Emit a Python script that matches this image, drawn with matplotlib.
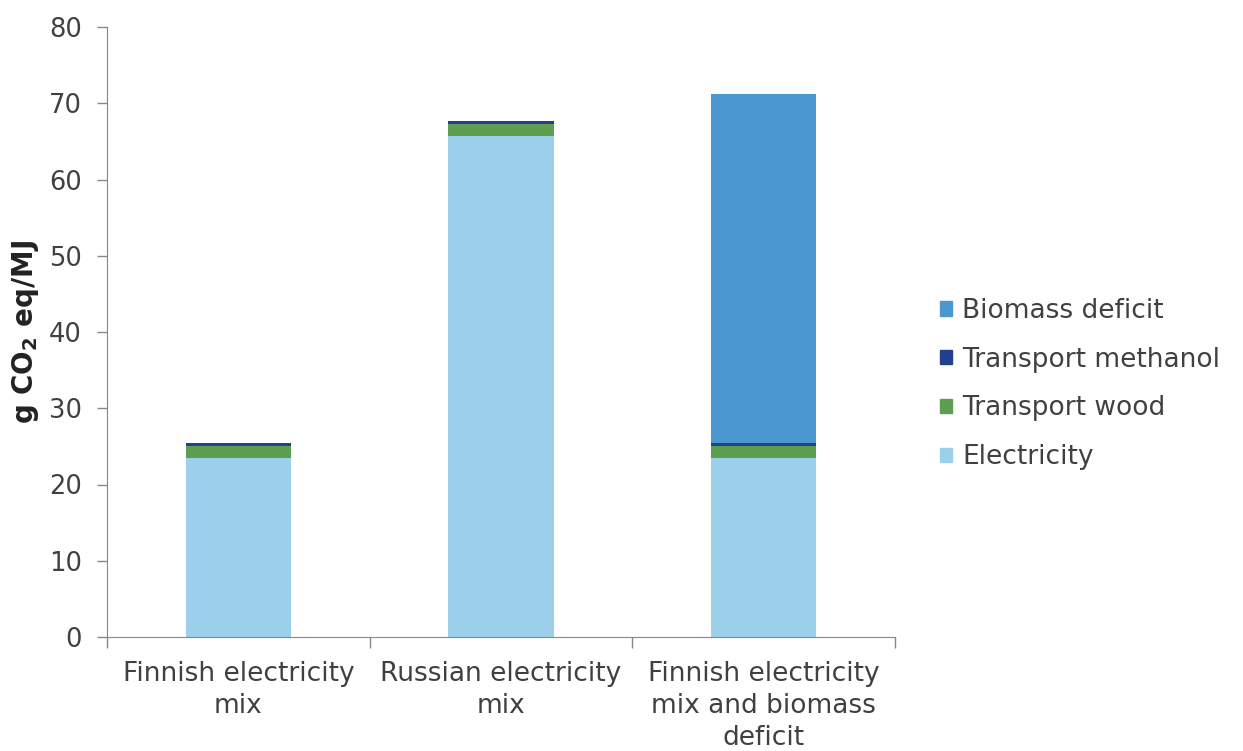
import numpy as np
import matplotlib.pyplot as plt
from matplotlib.patches import Patch

# data (g CO2 eq/MJ)
categories = ["Finnish electricity\nmix", "Russian electricity\nmix",
              "Finnish electricity\nmix and biomass\ndeficit"]
electricity = [23.5, 65.7, 23.5]
transport_wood = [1.5, 1.6, 1.5]
transport_methanol = [0.5, 0.4, 0.5]
biomass_deficit = [0.0, 0.0, 45.7]

series = [("Electricity", electricity, "#9bd0ea"),
          ("Transport wood", transport_wood, "#5d9e50"),
          ("Transport methanol", transport_methanol, "#233f8f"),
          ("Biomass deficit", biomass_deficit, "#4a97d1")]

plt.rcParams['font.family'] = ['DejaVu Sans']
fig = plt.figure(figsize=(12.43, 7.51), dpi=100)
ax = fig.add_axes([107/1243, 1 - 637/751, 788/1243, 610/751])

x = np.arange(len(categories))
bottom = np.zeros(len(categories))
for name, vals, col in series:
    ax.bar(x, vals, 0.4, bottom=bottom, color=col, label=name)
    bottom += np.array(vals)

ax.set_xlim(-0.5, 2.5)
ax.set_ylim(0, 80)
ax.set_yticks(range(0, 81, 10))
ax.tick_params(axis='y', labelsize=18.5, colors='#888888', labelcolor='#404040',
               length=7, width=1, direction='out', pad=11)

# category labels centred, ticks between categories
ax.set_xticks([-0.5, 0.5, 1.5, 2.5])
ax.set_xticklabels([])
ax.tick_params(axis='x', length=8, colors='#888888', width=1)
for xi, lab in zip(x, categories):
    ax.text(xi, -3.2, lab, ha='center', va='top', fontsize=19,
            color='#404040', linespacing=1.3)

for s in ['top', 'right']:
    ax.spines[s].set_visible(False)
for s in ['left', 'bottom']:
    ax.spines[s].set_color('#888888')

ax.set_ylabel(r"g CO$_\mathbf{2}$ eq/MJ", fontsize=20, fontweight='bold',
              color='#222222')
ax.yaxis.set_label_coords(-66/788, 0.5)

handles = [Patch(color=col, label=name) for name, vals, col in series[::-1]]
fig.legend(handles=handles, loc='center left',
           bbox_to_anchor=(940/1243, 1 - 384/751), frameon=False,
           fontsize=19, handlelength=0.45, handleheight=0.45,
           handletextpad=0.4, labelspacing=0.86, labelcolor='#404040',
           borderaxespad=0, borderpad=0)

plt.savefig("out.png")
